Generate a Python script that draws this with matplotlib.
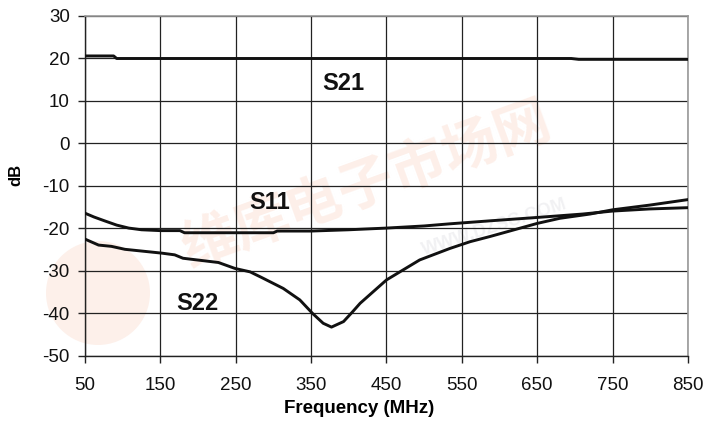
import matplotlib
matplotlib.use("Agg")
import matplotlib.pyplot as plt
from matplotlib.patches import Circle

# ---- data ----
s21_f = [50, 88, 92, 150, 250, 350, 450, 550, 650, 695, 705, 750, 850]
s21_db = [20.6, 20.6, 20.0, 20.0, 20.0, 20.0, 20.0, 20.0, 20.0, 20.0, 19.8, 19.8, 19.8]

s11_f = [50, 62, 76, 92, 108, 125, 150, 176, 182, 250, 300, 305, 350, 400, 450,
         500, 534, 587, 650, 710, 750, 799, 850]
s11_db = [-16.4, -17.3, -18.2, -19.2, -19.9, -20.3, -20.5, -20.5, -21.0, -21.0,
          -21.0, -20.6, -20.6, -20.3, -19.9, -19.4, -18.9, -18.2, -17.4, -16.6,
          -15.9, -15.4, -15.1]

s22_f = [50, 68, 85, 103, 152, 169, 180, 227, 249, 269, 284, 313, 335, 352, 366, 377,
         393, 405, 415, 450, 494, 534, 561, 587, 650, 680, 720, 750, 799, 850]
s22_db = [-22.5, -23.9, -24.2, -24.9, -25.8, -26.2, -27.0, -28.0, -29.4, -30.2, -31.5,
          -34.1, -36.8, -40.0, -42.3, -43.2, -41.9, -39.6, -37.6, -32.1, -27.4, -24.7,
          -23.1, -21.9, -18.8, -17.6, -16.6, -15.6, -14.5, -13.2]

x_ticks = [50, 150, 250, 350, 450, 550, 650, 750, 850]
y_ticks = [-50, -40, -30, -20, -10, 0, 10, 20, 30]

series_labels = ["S21", "S11", "S22"]
label_pos = [(393, 14.1), (295, -13.8), (199, -37.6)]

plt.rcParams['font.family'] = ['Liberation Sans', 'DejaVu Sans']
plt.rcParams['axes.unicode_minus'] = False

fig = plt.figure(figsize=(7.06, 4.21), dpi=100)
ax = fig.add_axes([0.1204, 0.1544, 0.8541, 0.8076])
ax.set_zorder(2)

# faint watermark (behind the axes)
fig.patches.append(Circle((0.98, 1.28), 0.52, transform=fig.dpi_scale_trans,
                          facecolor='#fdf0ea', edgecolor='none', zorder=0))
fig.text(0.52, 0.56, "维库电子市场网", fontsize=40, color='#fdefe9', rotation=20,
         family=['Noto Sans CJK SC', 'DejaVu Sans'], fontweight='bold',
         transform=fig.transFigure, ha='center', va='center', zorder=0)
fig.text(0.70, 0.46, "WWW.DZSC.COM", fontsize=13, color='#f1f1f3', rotation=18,
         fontweight='bold', transform=fig.transFigure, ha='center', va='center', zorder=0)

ax.set_facecolor('none')
ax.plot(s21_f, s21_db, color='#111111', lw=2.1, zorder=3)
ax.plot(s11_f, s11_db, color='#111111', lw=2.1, zorder=3)
ax.plot(s22_f, s22_db, color='#111111', lw=2.1, zorder=3)

for txt, (xx, yy) in zip(series_labels, label_pos):
    ax.text(xx, yy, txt, fontsize=17, fontweight='bold', ha='center', va='center',
            color='#111111', zorder=4)

ax.set_xlim(50, 850)
ax.set_ylim(-50, 30)
ax.set_xticks(x_ticks)
ax.set_yticks(y_ticks)
ax.grid(True, color='#222222', lw=0.9, zorder=1)
ax.set_axisbelow(True)

for side in ['top', 'right']:
    ax.spines[side].set_color('#999999')
    ax.spines[side].set_linewidth(1.2)
for side in ['left', 'bottom']:
    ax.spines[side].set_color('#222222')
    ax.spines[side].set_linewidth(1.0)

ax.tick_params(direction='out', length=5, width=1, color='#222222',
               labelsize=13.5, labelcolor='#111111', pad=6)
ax.tick_params(axis='x', pad=10)
ax.set_xlabel("Frequency (MHz)", fontsize=13.5, fontweight='bold', va='top')
ax.xaxis.set_label_coords(0.454, -0.128)
ax.set_ylabel("dB", fontsize=12, fontweight='bold')
ax.yaxis.set_label_coords(-0.103, 0.532)

fig.savefig("out.png", dpi=100)
